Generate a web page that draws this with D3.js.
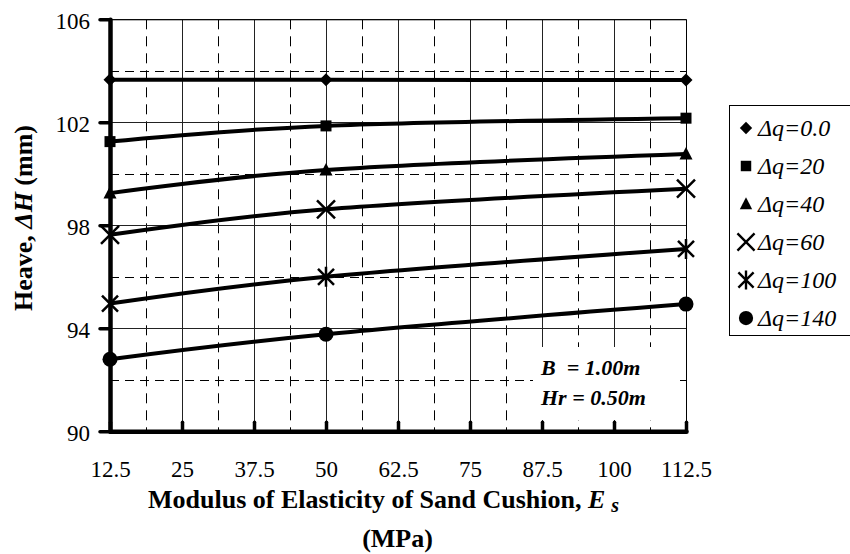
<!DOCTYPE html>
<html>
<head>
<meta charset="utf-8">
<script src="https://cdnjs.cloudflare.com/ajax/libs/d3/7.8.5/d3.min.js"></script>
<style>
	body { margin: 0; background: #fff; }
	#HeaveChartView svg { display: block; }
</style>
</head>
<body>
<div id="HeaveChartView"></div>
<script>
// values (heave in mm)
var esValues = [12.5, 50, 112.5];
var seriesNames = ["Δq=0.0", "Δq=20", "Δq=40", "Δq=60", "Δq=100", "Δq=140"];
var heaveDq0 = [103.65, 103.65, 103.64];
var heaveDq20 = [101.25, 101.86, 102.16];
var heaveDq40 = [99.25, 100.15, 100.77];
var heaveDq60 = [97.63, 98.62, 99.42];
var heaveDq100 = [94.96, 96.0, 97.08];
var heaveDq140 = [92.8, 93.77, 94.94];
var markerTypes = ["diamond", "square", "triangle", "cross", "star", "circle"];

var xTicks = [12.5, 25, 37.5, 50, 62.5, 75, 87.5, 100, 112.5];
var xMinorGrid = [18.75, 31.25, 43.75, 56.25, 68.75, 81.25, 93.75, 106.25];
var yTicks = [90, 94, 98, 102, 106];
var yMinorGrid = [92, 96, 100, 104];
var noteLines = ["B  = 1.00m", "Hr = 0.50m"];

var serifFont = "'Liberation Serif', 'Times New Roman', Times, 'DejaVu Serif', serif";

HeaveChart = function(){

	this.canvas = null;
	this.x = d3.scaleLinear().domain([12.5, 112.5]).range([110, 686]);
	this.y = d3.scaleLinear().domain([90, 106]).range([431.3, 19.3]);
	this.init();
};

HeaveChart.prototype.init = function(){

	this.canvas = d3.select(HeaveChart.div)
					.append("svg")
					.attr("width", HeaveChart.width)
					.attr("height", HeaveChart.height)
					.attr("font-family", serifFont);
};

HeaveChart.prototype.drawGrid = function(){

	var x = this.x, y = this.y;
	var g = this.canvas.append("g").attr("class", "grid");

	g.selectAll("line.xmaj").data(xTicks.slice(1))
		.enter().append("line")
		.attr("x1", function(d){ return Math.round(x(d)) + 0.5; })
		.attr("x2", function(d){ return Math.round(x(d)) + 0.5; })
		.attr("y1", y(106)).attr("y2", y(90))
		.attr("stroke", "#222").attr("stroke-width", 1);

	g.selectAll("line.xmin").data(xMinorGrid)
		.enter().append("line")
		.attr("x1", function(d){ return Math.round(x(d)) + 0.5; })
		.attr("x2", function(d){ return Math.round(x(d)) + 0.5; })
		.attr("y1", y(106)).attr("y2", y(90))
		.attr("stroke", "#000").attr("stroke-width", 1)
		.attr("stroke-dasharray", "10,7");

	g.selectAll("line.ymaj").data(yTicks.slice(1))
		.enter().append("line")
		.attr("x1", x(12.5)).attr("x2", x(112.5))
		.attr("y1", function(d){ return Math.round(y(d)) + 0.5; })
		.attr("y2", function(d){ return Math.round(y(d)) + 0.5; })
		.attr("stroke", "#222").attr("stroke-width", 1);

	g.selectAll("line.ymin").data(yMinorGrid)
		.enter().append("line")
		.attr("x1", x(12.5)).attr("x2", x(112.5))
		.attr("y1", function(d){ return Math.round(y(d)) + 0.5; })
		.attr("y2", function(d){ return Math.round(y(d)) + 0.5; })
		.attr("stroke", "#000").attr("stroke-width", 1)
		.attr("stroke-dasharray", "9,6");
};

HeaveChart.prototype.drawNote = function(){

	var g = this.canvas.append("g");
	g.append("rect")
		.attr("x", 533).attr("y", 347)
		.attr("width", 145).attr("height", 73)
		.attr("fill", "#fff");

	g.selectAll("text").data(noteLines)
		.enter().append("text")
		.attr("x", 541)
		.attr("y", function(d, i){ return 375 + i * 30; })
		.attr("font-size", 22)
		.attr("font-weight", "bold")
		.attr("font-style", "italic")
		.style("white-space", "pre")
		.text(function(d){ return d; });
};

HeaveChart.drawMarker = function(g, type){

	if (type == "diamond"){
		g.append("path").attr("d", "M0,-6.5L6.5,0L0,6.5L-6.5,0Z").attr("fill", "#000");
	} else if (type == "square"){
		g.append("rect").attr("x", -5.5).attr("y", -5.5).attr("width", 11).attr("height", 11).attr("fill", "#000");
	} else if (type == "triangle"){
		g.append("path").attr("d", "M0,-7L6.5,5.5L-6.5,5.5Z").attr("fill", "#000");
	} else if (type == "cross"){
		g.append("path").attr("d", "M-9,-9L9,9M-9,9L9,-9")
			.attr("stroke", "#000").attr("stroke-width", 2.5).attr("fill", "none");
	} else if (type == "star"){
		g.append("path").attr("d", "M-8,-8L8,8M-8,8L8,-8M0,-10V10")
			.attr("stroke", "#000").attr("stroke-width", 2.5).attr("fill", "none");
	} else {
		g.append("circle").attr("r", 7.5).attr("fill", "#000");
	}
};

HeaveChart.prototype.drawSeries = function(){

	var x = this.x, y = this.y;
	var that = this;
	var allSeries = [heaveDq0, heaveDq20, heaveDq40, heaveDq60, heaveDq100, heaveDq140];

	var line = d3.line()
				.x(function(d, i){ return x(esValues[i]); })
				.y(function(d){ return y(d); })
				.curve(d3.curveCardinal.tension(0));

	allSeries.forEach(function(vals, s){
		that.canvas.append("path")
			.attr("d", line(vals))
			.attr("fill", "none")
			.attr("stroke", "#000")
			.attr("stroke-width", 4);

		vals.forEach(function(v, i){
			var m = that.canvas.append("g")
						.attr("transform", "translate(" + x(esValues[i]) + "," + y(v) + ")");
			HeaveChart.drawMarker(m, markerTypes[s]);
		});
	});
};

HeaveChart.prototype.drawAxes = function(){

	var x = this.x, y = this.y;

	var ax = this.canvas.append("g")
				.attr("transform", "translate(0," + y(90) + ")")
				.call(d3.axisBottom(x).tickValues(xTicks).tickSize(-9).tickSizeOuter(0)
						.tickPadding(29).tickFormat(function(d){ return String(d); }));

	var ay = this.canvas.append("g")
				.attr("transform", "translate(" + x(12.5) + ",0)")
				.call(d3.axisLeft(y).tickValues(yTicks).tickSize(10).tickSizeOuter(0)
						.tickPadding(10).tickFormat(function(d){ return String(d); }));

	[ax, ay].forEach(function(a){
		a.attr("font-family", serifFont).attr("font-size", 23);
		a.select(".domain").attr("stroke", "#000").attr("stroke-width", 4.5).attr("stroke-linecap", "round");
		a.selectAll(".tick line").attr("stroke", "#000").attr("stroke-width", 3.5).attr("stroke-linecap", "round");
		a.selectAll(".tick text").attr("fill", "#000");
	});
	ay.selectAll(".tick text").attr("dy", "0.42em");

	// thin frame on top and right
	this.canvas.append("path")
		.attr("d", "M" + x(12.5) + "," + (y(106) + 0.5) + "H" + (x(112.5) + 0.5) + "V" + y(90))
		.attr("fill", "none").attr("stroke", "#000").attr("stroke-width", 1);

	// axis titles
	var xt = this.canvas.append("text")
				.attr("x", 148).attr("y", 508)
				.attr("font-size", 26).attr("font-weight", "bold");
	xt.append("tspan").text("Modulus of Elasticity of Sand Cushion, ");
	xt.append("tspan").attr("font-style", "italic").text("E");
	xt.append("tspan").attr("font-style", "italic").attr("font-size", 20)
		.attr("dx", 6).attr("dy", 4).text("s");

	this.canvas.append("text")
		.attr("x", 397.5).attr("y", 547)
		.attr("text-anchor", "middle")
		.attr("font-size", 26).attr("font-weight", "bold")
		.text("(MPa)");

	var yt = this.canvas.append("text")
				.attr("transform", "translate(32,218) rotate(-90)")
				.attr("text-anchor", "middle")
				.attr("font-size", 26).attr("font-weight", "bold");
	yt.append("tspan").text("Heave, ");
	yt.append("tspan").attr("font-style", "italic").text("ΔH");
	yt.append("tspan").text(" (mm)");
};

HeaveChart.prototype.drawLegend = function(){

	var g = this.canvas.append("g");
	g.append("rect")
		.attr("x", 729.5).attr("y", 105.5)
		.attr("width", 125).attr("height", 230)
		.attr("fill", "#fff").attr("stroke", "#000").attr("stroke-width", 1);

	seriesNames.forEach(function(name, i){
		var cy = 128 + i * 38;
		var m = g.append("g").attr("transform", "translate(746," + cy + ") scale(0.95)");
		HeaveChart.drawMarker(m, markerTypes[i]);
		g.append("text")
			.attr("x", 758).attr("y", cy + 8)
			.attr("font-size", 24).attr("font-style", "italic")
			.text(name);
	});
};

HeaveChart.prototype.render = function(){

	this.drawGrid();
	this.drawNote();
	this.drawSeries();
	this.drawAxes();
	this.drawLegend();
	console.log("render done");
};

HeaveChart.width = 850;
HeaveChart.height = 554;
HeaveChart.div = "#HeaveChartView";

new HeaveChart().render();
</script>
</body>
</html>
